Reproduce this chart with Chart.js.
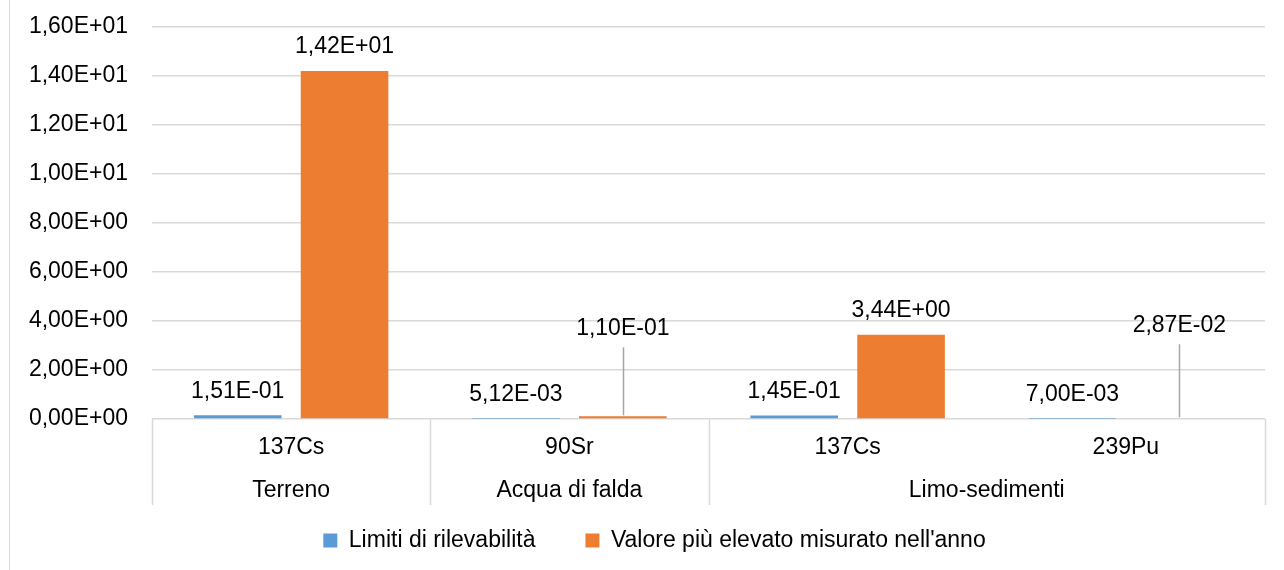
<!DOCTYPE html>
<html><head><meta charset="utf-8">
<script src="https://cdn.jsdelivr.net/npm/chart.js@4"></script>
<style>html,body{margin:0;padding:0;background:#fff}#wrap{width:1284px;height:570px}</style>
</head><body><div id="wrap"><canvas id="c" width="1284" height="570"></canvas></div>
<script>
// ---- data ----
const categories = ['137Cs', '90Sr', '137Cs', '239Pu'];
const groups = ['Terreno', 'Acqua di falda', 'Limo-sedimenti'];
const groupSpans = [1, 1, 2];
const seriesNames = ['Limiti di rilevabilità', "Valore più elevato misurato nell'anno"];
const limiti = [0.151, 0.00512, 0.145, 0.007];
const valoreMax = [14.2, 0.110, 3.44, 0.0287];
const yTicks = [0, 2, 4, 6, 8, 10, 12, 14, 16];

function fmtE(v) {
  if (v === 0) return '0,00E+00';
  let e = Math.floor(Math.log10(Math.abs(v)));
  let m = v / Math.pow(10, e);
  if (Math.round(m * 100) / 100 >= 10) { m /= 10; e += 1; }
  const s = m.toFixed(2).replace('.', ',');
  const ae = Math.abs(e);
  return s + 'E' + (e < 0 ? '-' : '+') + (ae < 10 ? '0' : '') + ae;
}

const FONT = "'Liberation Sans', Arial, sans-serif";
const FS = 23;
Chart.defaults.font.family = FONT;
Chart.defaults.font.size = FS;
Chart.defaults.color = '#000';

const GRID = '#d9d9d9';

const extras = {
  id: 'extras',
  afterLayout(chart, args, opts) {
    const lg = chart.legend;
    if (lg) { lg.left += opts.legendShift; lg.right += opts.legendShift; }
  },
  beforeDraw(chart) {
    const ctx = chart.ctx;
    ctx.save();
    ctx.strokeStyle = GRID;
    ctx.lineWidth = 1;
    ctx.beginPath();
    ctx.moveTo(9.5, 0);
    ctx.lineTo(9.5, chart.height);
    ctx.stroke();
    ctx.restore();
  },
  afterDatasetsDraw(chart, args, opts) {
    const ctx = chart.ctx;
    ctx.save();
    ctx.font = FS + 'px ' + FONT;
    ctx.fillStyle = '#000';
    ctx.textAlign = 'center';
    ctx.textBaseline = 'middle';
    chart.data.datasets.forEach((ds, di) => {
      const meta = chart.getDatasetMeta(di);
      meta.data.forEach((el, i) => {
        const lead = (opts.leaders || []).find(l => l.datasetIndex === di && l.index === i);
        const off = lead ? lead.offset : opts.offset;
        const cy = el.y - off;
        ctx.fillText(fmtE(ds.data[i]), el.x, cy);
        if (lead) {
          ctx.strokeStyle = '#a6a6a6';
          ctx.lineWidth = 1.5;
          ctx.beginPath();
          ctx.moveTo(Math.round(el.x) + 0.5, cy + 19);
          ctx.lineTo(Math.round(el.x) + 0.5, el.y - 1);
          ctx.stroke();
        }
      });
    });
    ctx.restore();
  },
  afterDraw(chart) {
    const ctx = chart.ctx;
    const xs = chart.scales.x;
    const area = chart.chartArea;
    const n = categories.length;
    const cw = (area.right - area.left) / n;
    ctx.save();
    ctx.font = FS + 'px ' + FONT;
    ctx.fillStyle = '#000';
    ctx.textAlign = 'center';
    ctx.textBaseline = 'middle';
    categories.forEach((c, i) => {
      ctx.fillText(c, xs.getPixelForValue(i), area.bottom + 29);
    });
    let start = 0;
    const bounds = [0];
    groups.forEach((g, gi) => {
      const end = start + groupSpans[gi] - 1;
      const cx = (xs.getPixelForValue(start) + xs.getPixelForValue(end)) / 2;
      ctx.fillText(g, cx, area.bottom + 72);
      start = end + 1;
      bounds.push(start);
    });
    ctx.strokeStyle = GRID;
    ctx.lineWidth = 1.5;
    bounds.forEach(b => {
      const x = Math.round(xs.getPixelForValue(b) - cw / 2) + 0.5;
      ctx.beginPath();
      ctx.moveTo(x, area.bottom);
      ctx.lineTo(x, area.bottom + 86);
      ctx.stroke();
    });
    ctx.restore();
  }
};

new Chart(document.getElementById('c'), {
  type: 'bar',
  data: {
    labels: categories,
    datasets: [
      { label: seriesNames[0], data: limiti, backgroundColor: '#5B9BD5', borderWidth: 0,
        categoryPercentage: 0.768, barPercentage: 0.82 },
      { label: seriesNames[1], data: valoreMax, backgroundColor: '#ED7D31', borderWidth: 0,
        categoryPercentage: 0.768, barPercentage: 0.82 }
    ]
  },
  options: {
    responsive: false,
    animation: false,
    layout: { padding: { top: 27, left: 0, right: 19, bottom: 8 } },
    plugins: {
      legend: {
        position: 'bottom',
        labels: { boxWidth: 14, boxHeight: 14, padding: 50, color: '#000', font: { size: FS, family: FONT } }
      },
      tooltip: { enabled: false },
      extras: {
        offset: 24,
        legendShift: 22,
        leaders: [
          { datasetIndex: 1, index: 1, offset: 88 },
          { datasetIndex: 1, index: 3, offset: 93 }
        ]
      }
    },
    scales: {
      x: {
        grid: { display: false },
        border: { display: false },
        ticks: { display: false },
        afterFit: s => { s.height = 60; }
      },
      y: {
        min: 0, max: 16,
        afterBuildTicks: s => { s.ticks = yTicks.map(v => ({ value: v })); },
        ticks: { callback: v => fmtE(v), padding: 24, color: '#000', font: { size: FS, family: FONT } },
        grid: { color: GRID, lineWidth: 1.5, drawTicks: false },
        border: { display: false },
        afterFit: s => { s.width = 152; s.paddingTop = 0; s.paddingBottom = 0; }
      }
    }
  },
  plugins: [extras]
});
</script>
</body></html>
